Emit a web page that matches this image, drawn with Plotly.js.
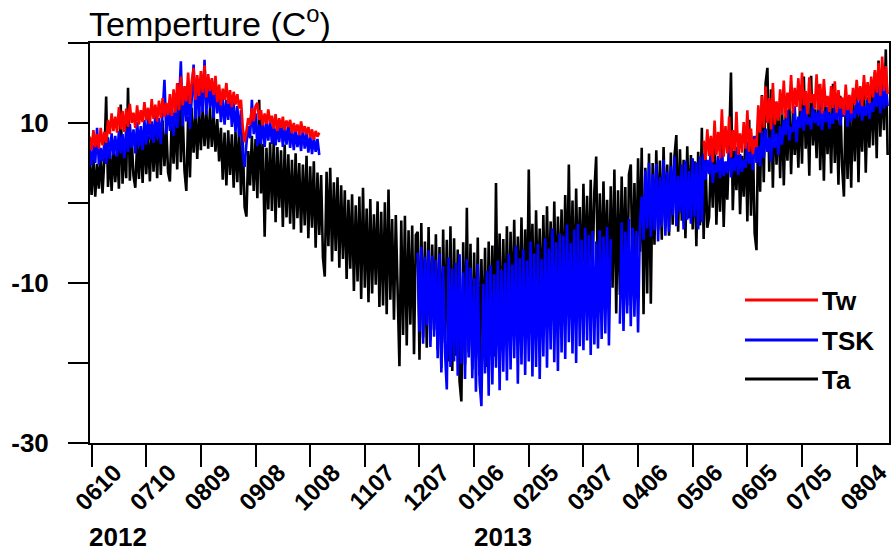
<!DOCTYPE html>
<html>
<head>
<meta charset="utf-8">
<script src="https://cdn.plot.ly/plotly-3.0.1.min.js"></script>
<style>html,body{margin:0;padding:0;background:#fff;}</style>
</head>
<body>
<div id="chart" style="width:891px;height:552px;"></div>
<script>
// Day 0 = 2012-06-09, one value per day
const startDate = '2012-06-09';

// Ta (air temperature), days 0..438
const ta = [
  5.2, 1.0, 5.8, 0.8, 4.9, 1.8, 6.1, 1.2, 5.5, 13.3,
  2.0, 6.4, 1.5, 7.2, 2.6, 6.8, 1.8, 12.3, 2.4, 7.5,
  3.1, 14.4, 2.8, 8.1, 3.4, 1.9, 7.6, 3.0, 8.8, 2.5,
  9.2, 3.6, 8.4, 2.7, 9.8, 3.9, 8.9, 3.1, 10.1, 3.5,
  10.3, 4.6, 9.5, 3.8, 2.7, 10.6, 4.9, 11.0, 4.2, 15.0,
  5.1, 11.4, 4.0, 1.5, 10.8, 3.2, 11.9, 6.3, 11.2, 5.5,
  11.7, 6.6, 12.0, 7.1, 11.5, 6.8, 11.9, 7.0, 11.3, 6.4,
  10.5, 5.2, 9.4, 2.9, 8.8, 2.2, 9.1, 3.5, 8.6, 1.9,
  8.9, 2.6, 9.5, 1.0, 7.8, -0.5, -1.7, 6.5, 2.2, 8.4,
  1.5, 8.0, 0.6, 12.9, 1.2, 7.4, -4.2, 6.9, -0.8, 7.6,
  -1.0, 8.1, -2.4, 7.0, -0.6, 6.6, -3.0, 7.3, -1.8, 6.1,
  -2.6, 5.4, -3.3, 6.2, -1.9, 5.0, -3.7, 4.8, -2.8, 5.9,
  -4.4, 4.6, -3.1, 5.2, -5.6, 3.8, -4.0, 3.5, -6.8, -9.2,
  3.9, -5.4, 4.4, -7.3, 2.6, -6.0, 3.2, -8.1, 2.2, -7.0,
  1.6, -9.5, 0.4, -8.2, 1.1, -11.0, -0.3, -9.8, 0.8, -12.0,
  1.9, -10.6, -0.7, -12.4, 0.5, -11.3, -1.4, -10.2, 0.2, -13.0,
  -1.1, -12.8, 0.1, -13.9, 1.7, -12.1, -2.0, -14.6, -1.5, -13.2,
  -20.4, -2.2, -16.5, -1.6, -17.8, -3.4, -15.2, -2.8, -18.9, -4.0,
  -3.6, -19.6, -2.5, -16.8, -4.8, -18.1, -3.0, -17.2, -5.2, -15.9,
  -3.9, -18.4, -5.5, -20.6, -3.3, -17.5, -4.6, -19.8, -2.9, -21.0,
  -4.4, -19.1, -5.8, -22.3, -24.8, -4.9, -20.2, -0.6, -18.7, -5.1,
  -20.8, -6.2, -19.4, -4.3, -21.6, -7.0, -18.1, -5.6, -20.5, -4.8,
  -17.9, -5.3, -19.2, 2.5, -16.6, -3.8, -18.4, -4.5, -15.8, -2.9,
  -16.9, -3.6, -14.7, -2.1, -15.9, -4.2, -13.5, -1.8, -16.2, -3.3,
  -14.8, 4.2, -13.1, -2.6, -15.6, -0.9, -12.4, -3.2, -14.2, -1.5,
  -13.6, -0.4, -11.8, -2.3, -14.5, 0.2, -12.7, -1.7, -11.2, -0.8,
  -12.9, 1.0, -10.8, 4.8, -11.9, 0.3, -12.6, 1.8, -10.1, -0.5,
  -11.7, 2.4, -9.6, 0.9, -10.9, 2.9, -9.2, 1.5, 5.8, -11.4,
  1.2, -9.9, 2.7, -8.4, 0.4, -12.3, 2.1, -10.6, 4.2, -13.8,
  1.6, -11.5, 3.3, -9.4, 2.0, -12.8, 3.6, 4.8, -10.2, 2.5,
  -8.7, 5.6, -6.1, 6.9, -13.9, 4.4, -11.3, 6.2, -12.6, 5.0,
  -5.2, 6.6, -3.4, 5.3, -4.6, 7.0, -3.0, 4.8, -4.1, 6.3,
  -2.7, 5.9, 8.5, -3.6, 6.7, -2.2, 5.4, -4.4, 7.1, -1.9,
  6.0, -3.3, 5.2, -5.4, 6.4, -2.8, 9.4, -4.5, 5.7, -3.1,
  -1.8, 6.2, -0.6, 8.9, -2.7, 5.4, -1.1, 7.6, -3.0, 4.9,
  0.4, 7.3, 16.3, -0.9, 6.5, 1.6, 8.2, -1.4, 5.9, 0.8,
  9.0, -2.3, 10.4, -1.6, 8.3, -3.8, -5.9, 11.2, 1.4, 13.5,
  2.6, 15.0, 16.9, 3.9, 14.2, 1.9, 12.6, 4.8, 11.8, 3.1,
  12.4, 2.2, 10.9, 5.3, 12.9, 3.6, 11.5, 6.0, 10.3, 4.4,
  13.6, 4.9, 15.8, 6.8, 12.2, 3.4, 15.9, 7.2, 11.7, 5.6,
  14.8, 4.1, 12.6, 2.8, 13.3, 6.1, 11.9, 3.7, 14.9, 5.0,
  12.1, 2.3, 13.4, 4.6, 0.8, 12.8, 3.0, 11.5, 1.9, 13.7,
  5.2, 14.4, 2.6, 12.9, 6.4, 15.1, 3.8, 13.2, 6.9, 14.6,
  7.2, 16.4, 5.6, 17.8, 8.3, 15.6, 9.1, 19.2, 6.0
];

// TSK (skin temperature): days 0..126 and days 180..438
const tskStart1 = 0;
const tsk1 = [
  6.8, 4.7, 7.3, 5.0, 9.4, 4.8, 6.9, 5.2, 7.5, 4.9,
  8.2, 5.5, 8.7, 6.0, 8.4, 5.8, 9.0, 6.2, 8.6, 5.6,
  9.4, 6.4, 9.9, 6.9, 9.2, 6.2, 10.1, 7.0, 9.6, 6.6,
  10.4, 7.3, 10.9, 7.9, 10.2, 7.5, 11.1, 8.0, 10.6, 7.4,
  11.3, 15.4, 8.6, 12.2, 9.0, 11.8, 8.4, 12.7, 9.4, 12.4,
  17.7, 9.6, 13.8, 10.2, 14.5, 9.3, 13.2, 17.3, 10.5, 14.9,
  10.8, 15.2, 11.4, 17.9, 11.0, 15.6, 11.9, 14.8, 10.6, 15.1,
  11.2, 13.7, 10.1, 13.2, 9.8, 12.9, 10.4, 13.5, 9.5, 12.6,
  8.9, 12.1, 8.3, 11.6, 6.2, 4.5, 7.4, 9.6, 8.1, 12.9,
  8.6, 11.2, 7.1, 9.8, 7.4, 10.5, 7.0, 10.2, 7.8, 10.4,
  7.4, 10.0, 7.2, 9.7, 7.6, 10.3, 7.0, 9.5, 7.3, 9.9,
  6.9, 9.4, 6.6, 9.1, 7.0, 8.8, 6.5, 9.3, 6.8, 8.7,
  6.3, 8.5, 6.1, 8.2, 6.4, 8.0, 6.0
];
const tskStart2 = 180;
const tsk2 = [
  -6.2, -16.1, -5.5, -17.6, -6.8, -15.3, -5.9, -18.0, -6.6, -16.7,
  -7.1, -19.4, -6.3, -21.2, -7.9, -18.6, -23.3, -6.8, -20.5, -8.2,
  -19.8, -7.5, -21.6, -6.4, -20.1, -8.7, -22.0, -7.0, -19.3, -8.1,
  -21.9, -9.4, -23.6, -7.6, -22.4, -25.4, -10.1, -21.3, -8.5, -24.1,
  -7.8, -22.7, -8.9, -20.6, -7.2, -23.4, -8.4, -21.1, -7.5, -22.2,
  -6.4, -20.8, -7.7, -19.4, -5.3, -22.6, -6.9, -20.2, -5.8, -21.5,
  -7.2, -19.8, -4.8, -21.7, -6.3, -20.5, -5.1, -22.0, -7.0, -19.2,
  -4.4, -20.6, -5.7, -18.3, -3.2, -19.9, -4.9, -21.0, -3.8, -18.7,
  -4.1, -19.5, -2.7, -17.4, -5.0, -18.8, -3.3, -20.0, -2.6, -17.9,
  -4.6, -18.4, -3.1, -17.2, -4.0, -19.0, -3.5, -17.7, -4.8, -18.2,
  -3.4, -17.0, -4.2, -16.3, -3.0, -17.8, -4.5,
  null, null, null, null,
  -15.1, -2.4, -16.0, -3.6, -13.8, -2.0, -15.4, -3.1, -14.2,
  -3.5, -16.2, -2.8, 0.8, -4.6, 4.1, -3.2, 5.0, -4.2, 3.6,
  -3.4, 4.9, -4.8, 3.2, -3.0, 5.4, -4.1, 3.9, -3.6, 4.6,
  -1.5, 5.8, -2.9, 3.4, -1.2, 4.8, -3.3, 5.3, -2.1, 4.0,
  -2.6, 5.6, -1.7, 5.1, -3.3, 5.8, -2.4,
  6.2, 2.9, 5.4, 3.6, 6.7, 2.5, 4.8, 3.8, 5.9, 3.1, 6.4, 3.4, 5.2,
  3.7, 6.8, 3.2, 5.6, 4.0, 7.0, 3.5, 6.1, 3.9, 5.4,
  4.4, 7.6, 4.9, 6.3, 4.1, 8.4, 5.0, 7.1, 4.6, 9.0,
  5.6, 9.3, 6.4, 8.2, 5.2, 9.8, 6.9, 8.7, 6.0, 9.6,
  7.3, 10.4, 8.5, 11.6, 7.8, 9.5, 8.9, 12.1, 7.6, 10.8,
  9.4, 11.9, 9.0, 12.5, 9.8, 10.7, 9.2, 12.2, 10.0, 11.3,
  9.6, 12.4, 9.1, 11.5, 10.1, 12.0, 9.3, 11.2, 9.9, 12.3,
  10.4, 13.1, 9.7, 11.8, 10.8, 12.6, 9.5, 13.3, 10.2, 11.6,
  10.6, 12.8, 11.0, 13.2, 10.3, 12.1, 10.9, 13.0, 10.5, 12.6,
  11.4, 13.8, 12.0, 14.6, 11.2, 15.4, 11.8, 14.9, 12.1
];

// Tw (water temperature): days 0..126 and days 337..438
const twStart1 = 0;
const tw1 = [
  8.3, 6.6, 9.1, 7.0, 8.6, 6.8, 9.4, 7.2, 8.9, 7.5,
  10.4, 8.6, 11.2, 9.0, 10.8, 8.8, 12.0, 9.2, 11.5, 8.9,
  11.8, 9.5, 12.4, 10.0, 11.3, 9.4, 12.2, 9.8, 11.6, 10.1,
  12.6, 10.3, 11.9, 9.9, 13.0, 10.5, 12.3, 10.2, 12.8, 10.6,
  13.1, 10.8, 12.5, 11.0, 13.6, 10.9, 14.2, 11.3, 15.0, 11.6,
  15.8, 12.2, 14.6, 12.7, 16.3, 12.4, 15.2, 16.9, 12.9, 16.0,
  13.4, 16.5, 13.8, 17.2, 13.2, 16.1, 14.0, 15.6, 13.5, 15.9,
  12.6, 14.8, 12.2, 14.3, 12.9, 15.0, 12.4, 14.1, 12.0, 13.9,
  12.3, 13.6, 11.8, 12.9, 9.4, 7.6, 9.0, 10.6, 9.8, 11.9,
  10.2, 12.1, 12.5, 10.4, 11.6, 9.7, 11.2, 9.9, 11.7, 10.0,
  10.9, 9.3, 11.1, 9.0, 10.6, 9.4, 10.8, 9.1, 10.3, 9.5,
  10.4, 8.7, 10.0, 8.9, 9.8, 8.5, 10.2, 8.8, 9.6, 8.6,
  9.5, 8.2, 9.2, 7.9, 9.0, 8.3, 8.8
];
const twStart2 = 337;
const tw2 = [
  7.8, 5.4, 9.2, 5.9, 8.4, 5.1, 10.3, 6.0, 8.9, 5.6, 11.7, 5.8, 9.6,
  6.2, 10.8, 5.7, 9.1, 6.5, 11.4, 6.0, 8.7, 6.3, 10.1,
  6.8, 11.6, 6.4, 9.3, 6.1, 8.0, 7.0, 12.2, 8.8, 13.4,
  9.4, 14.6, 10.0, 13.1, 9.2, 15.0, 9.8, 12.7, 10.3, 14.2,
  11.0, 15.3, 10.6, 13.8, 11.7, 16.0, 11.2, 14.4, 12.0, 15.6,
  11.5, 16.3, 12.2, 14.0, 11.1, 15.7, 12.5, 13.6, 11.8, 16.1,
  11.6, 14.9, 11.2, 15.5, 12.0, 13.4, 11.4, 14.6, 11.9, 15.2,
  11.3, 14.1, 11.8, 13.2, 11.0, 14.8, 11.6, 13.5, 11.2, 14.4,
  12.3, 15.4, 12.8, 14.6, 12.1, 16.0, 12.9, 15.1, 12.5, 15.8,
  13.2, 16.6, 13.8, 17.5, 13.4, 18.3, 14.0, 17.1, 13.6
];

const tickDates = ['2012-06-10','2012-07-10','2012-08-09','2012-09-08','2012-10-08','2012-11-07',
  '2012-12-07','2013-01-06','2013-02-05','2013-03-07','2013-04-06','2013-05-06','2013-06-05',
  '2013-07-05','2013-08-04'];
const tickLabels = ['0610','0710','0809','0908','1008','1107','1207','0106','0205','0307',
  '0406','0506','0605','0705','0804'];
const yTickVals = [-30, -10, 10];
const yTickLabels = ['-30', '-10', '10'];
const yearLabels = ['2012', '2013'];
const seriesNames = ['Tw', 'TSK', 'Ta'];
const seriesColors = ['#ff0000', '#0000ff', '#000000'];

const DAY = 86400000;
const t0 = Date.parse(startDate + 'T00:00:00Z');
function dayDates(d0, n) {
  const out = [];
  for (let i = 0; i < n; i++) out.push(new Date(t0 + (d0 + i) * DAY).toISOString().slice(0, 19).replace('T', ' '));
  return out;
}
function joinParts(s1, v1, s2, v2) {
  const gapDay = s1 + v1.length;
  return {
    x: dayDates(s1, v1.length).concat(dayDates(gapDay, 1), dayDates(s2, v2.length)),
    y: v1.concat([null], v2)
  };
}

const taXY = {x: dayDates(0, ta.length), y: ta};
const tskXY = joinParts(tskStart1, tsk1, tskStart2, tsk2);
const twXY = joinParts(twStart1, tw1, twStart2, tw2);

const LW = 2.6;
const traces = [
  {x: taXY.x, y: taXY.y, name: 'Ta', type: 'scatter', mode: 'lines', line: {color: seriesColors[2], width: LW}, connectgaps: false},
  {x: tskXY.x, y: tskXY.y, name: 'TSK', type: 'scatter', mode: 'lines', line: {color: seriesColors[1], width: LW}, connectgaps: false},
  {x: twXY.x, y: twXY.y, name: 'Tw', type: 'scatter', mode: 'lines', line: {color: seriesColors[0], width: LW}, connectgaps: false}
];

const FONT = 'Liberation Sans, Arial, Helvetica, sans-serif';
const L = 90, R = 2, T = 43, B = 109, W = 891, H = 552;
const pw = W - L - R, ph = H - T - B;
const px = v => (v - L) / pw;
const py = v => (H - B - v) / ph;

const legendY = [300, 340, 379];
const shapes = [], annotations = [];
seriesNames.forEach((nm, i) => {
  shapes.push({type: 'line', xref: 'paper', yref: 'paper', x0: px(745), x1: px(818), y0: py(legendY[i]), y1: py(legendY[i]),
    line: {color: seriesColors[i], width: 3}});
  annotations.push({xref: 'paper', yref: 'paper', x: px(820), y: py(legendY[i] + 1), xanchor: 'left', yanchor: 'middle',
    text: nm, showarrow: false, font: {family: FONT, size: 26, weight: 'bold', color: '#000'}});
});
annotations.push({xref: 'paper', yref: 'paper', x: px(117.5), y: py(537), xanchor: 'center', yanchor: 'middle',
  text: yearLabels[0], showarrow: false, font: {family: FONT, size: 26, weight: 'bold', color: '#000'}});
annotations.push({xref: 'paper', yref: 'paper', x: px(503), y: py(537), xanchor: 'center', yanchor: 'middle',
  text: yearLabels[1], showarrow: false, font: {family: FONT, size: 26, weight: 'bold', color: '#000'}});

const layout = {
  width: W, height: H,
  margin: {l: L, r: R, t: T, b: B, pad: 0},
  paper_bgcolor: '#fff', plot_bgcolor: '#fff',
  showlegend: false,
  title: {text: 'Temperture (C<sup>o</sup>)', xref: 'container', yref: 'container',
    x: 89 / W, xanchor: 'left', y: 1 - 24 / H, yanchor: 'middle',
    font: {family: FONT, size: 34, color: '#000'}},
  xaxis: {
    type: 'date', range: ['2012-06-09 03:00', '2013-08-21 18:00'],
    tickmode: 'array', tickvals: tickDates, ticktext: tickLabels, tickangle: -45,
    ticks: 'outside', ticklen: 22, tickwidth: 2, tickcolor: '#000',
    showline: true, linewidth: 2, linecolor: '#000', mirror: true,
    showgrid: false, zeroline: false,
    tickfont: {family: FONT, size: 24, weight: 'bold', color: '#000'},
    ticklabelshift: 23, ticklabelstandoff: -18, ticklabeloverflow: 'allow'
  },
  yaxis: {
    range: [-30, 20],
    tickmode: 'array', tickvals: yTickVals, ticktext: yTickLabels,
    ticks: 'outside', ticklen: 20, tickwidth: 2, tickcolor: '#000',
    minor: {tickmode: 'linear', tick0: -30, dtick: 10, ticks: 'outside', ticklen: 20, tickwidth: 2, tickcolor: '#000', showgrid: false},
    showline: true, linewidth: 2, linecolor: '#000', mirror: true,
    showgrid: false, zeroline: false,
    tickfont: {family: FONT, size: 26, weight: 'bold', color: '#000'},
    ticklabelstandoff: 14
  },
  shapes: shapes,
  annotations: annotations
};

Plotly.newPlot('chart', traces, layout, {displayModeBar: false, staticPlot: true});
</script>
</body>
</html>
